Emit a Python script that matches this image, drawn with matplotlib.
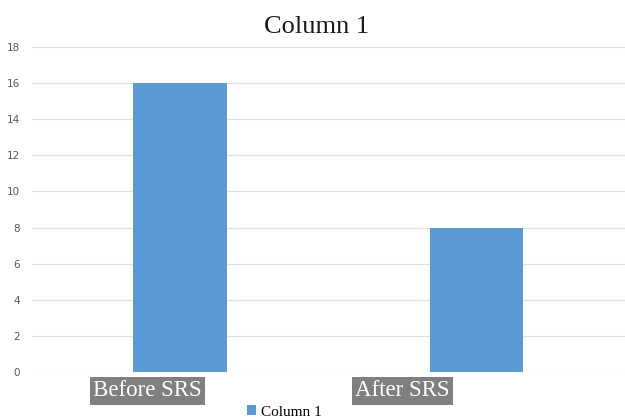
import numpy as np
import matplotlib.pyplot as plt

# data
categories = ['Before SRS', 'After SRS']
values = [16, 8]
yticks = [0, 2, 4, 6, 8, 10, 12, 14, 16, 18]
series_name = 'Column 1'

bar_color = '#5B9BD5'

fig = plt.figure(figsize=(6.25, 4.19), dpi=100)
ax = fig.add_axes([0.051, 0.112, 0.949, 0.776])

x = np.arange(len(categories))
ax.bar(x, values, width=0.315, color=bar_color, label=series_name, zorder=3)

ax.set_xlim(-0.5, len(categories) - 0.5)
ax.set_ylim(0, 18)
ax.set_yticks(yticks)
ax.set_yticklabels([str(v) for v in yticks], fontsize=7.5, color='#595959',
                   family='DejaVu Sans')
ax.tick_params(axis='y', length=0, pad=8.5)
ax.grid(axis='y', color='#e0e0e0', linewidth=0.9, zorder=0)
for s in ax.spines.values():
    s.set_visible(False)

# category labels: white text on grey boxes, shifted left as in the original
ax.set_xticks([])
label_shift = [-0.11, -0.25]
for i, lab in enumerate(categories):
    ax.text(x[i] + label_shift[i], -0.45, lab, ha='center', va='top',
            fontsize=16.5, color='white', family='Liberation Serif',
            bbox=dict(boxstyle='square,pad=0.15', fc='#7f7f7f', ec='none'))

fig.text(0.507, 0.935, series_name, ha='center', va='center', fontsize=19,
         family='Liberation Serif', color='#1a1a1a')

fig.legend(loc='lower center', bbox_to_anchor=(0.455, -0.032), frameon=False,
           prop={'family': 'Liberation Serif', 'size': 11},
           handlelength=0.6, handleheight=0.6, handletextpad=0.3)

fig.savefig('out.png', dpi=100)
